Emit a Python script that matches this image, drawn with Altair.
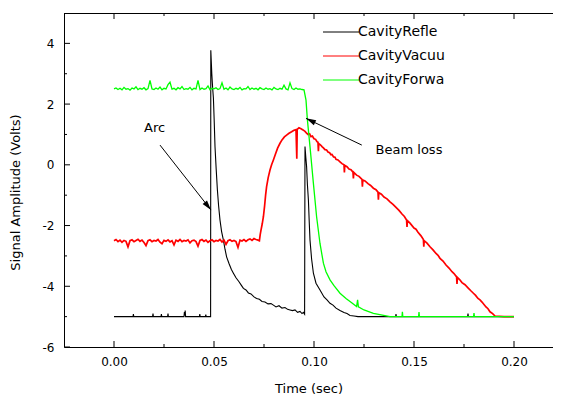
import math
import altair as alt
import pandas as pd

# ---------------- data ----------------
SAMPLE_DT = 0.001  # oscilloscope time base of the flat pre-trigger records

# CavityRefle (black)
REFLE = [
    (0.0000, -5.00), (0.0095, -5.00), (0.0097, -4.92), (0.0099, -5.00),
    (0.0193, -5.00), (0.0195, -4.90), (0.0197, -5.00), (0.0235, -5.00),
    (0.0237, -4.92), (0.0239, -5.00), (0.0268, -5.00), (0.0270, -4.90),
    (0.0272, -5.00), (0.0350, -5.00), (0.0352, -4.85), (0.0354, -4.96),
    (0.0356, -4.80), (0.0358, -5.00), (0.0427, -5.00), (0.0429, -4.92),
    (0.0431, -5.00), (0.0457, -5.00), (0.0459, -4.93), (0.0461, -5.00),
    (0.0483, -5.00),
    (0.0484, 3.77), (0.0489, 3.00), (0.0493, 2.55), (0.0497, 2.20),
    (0.0501, 1.45), (0.0505, 0.60), (0.0511, -0.15), (0.0517, -0.83),
    (0.0523, -1.35), (0.0530, -1.82), (0.0538, -2.20), (0.0547, -2.48),
    (0.0555, -2.78), (0.0563, -3.03), (0.0575, -3.25), (0.0587, -3.45),
    (0.0597, -3.57), (0.0610, -3.72), (0.0625, -3.85), (0.0637, -3.97),
    (0.0647, -4.07), (0.0660, -4.12), (0.0672, -4.22), (0.0685, -4.25),
    (0.0700, -4.35), (0.0713, -4.40), (0.0727, -4.43), (0.0740, -4.50),
    (0.0755, -4.52), (0.0770, -4.58), (0.0785, -4.57), (0.0797, -4.62),
    (0.0810, -4.68), (0.0825, -4.64), (0.0840, -4.72), (0.0855, -4.70),
    (0.0868, -4.76), (0.0880, -4.78), (0.0893, -4.80), (0.0905, -4.78),
    (0.0918, -4.86), (0.0930, -4.83), (0.0940, -4.90), (0.0947, -4.86),
    (0.0953, -4.92),
    (0.0955, 0.60), (0.0959, 0.25), (0.0963, -0.06), (0.0967, -0.65),
    (0.0972, -1.16), (0.0976, -1.85), (0.0980, -2.48), (0.0988, -3.10),
    (0.0997, -3.57), (0.1010, -3.90), (0.1030, -4.12), (0.1050, -4.35),
    (0.1065, -4.45), (0.1080, -4.56), (0.1095, -4.62), (0.1110, -4.72),
    (0.1130, -4.80), (0.1150, -4.86), (0.1165, -4.90), (0.1180, -4.96),
    (0.1200, -4.98), (0.1220, -5.00), (0.1250, -5.00), (0.1300, -5.00),
    (0.1350, -5.00), (0.1408, -5.00), (0.1410, -4.92), (0.1412, -5.00),
    (0.1500, -5.00), (0.1600, -5.00), (0.1700, -5.00), (0.1768, -5.00),
    (0.1770, -4.90), (0.1772, -5.00), (0.1850, -5.00), (0.2000, -5.00),
]

# CavityVacuu (red): flat record sampled every SAMPLE_DT from t = 0
VACUU_BASE = [
    -2.50, -2.46, -2.53, -2.48, -2.55, -2.49, -2.52, -2.70, -2.50, -2.47,
    -2.53, -2.49, -2.45, -2.52, -2.48, -2.56, -2.66, -2.50, -2.47, -2.53,
    -2.49, -2.51, -2.46, -2.55, -2.60, -2.49, -2.52, -2.47, -2.54, -2.50,
    -2.64, -2.48, -2.52, -2.46, -2.53, -2.49, -2.51, -2.47, -2.57, -2.50,
    -2.48, -2.53, -2.68, -2.49, -2.46, -2.52, -2.48, -2.55, -2.50, -2.47,
    -2.53, -2.49, -2.51, -2.46, -2.54, -2.48, -2.62, -2.50, -2.47, -2.52,
    -2.49, -2.53, -2.72, -2.48, -2.51, -2.46, -2.52, -2.47, -2.44, -2.49,
    -2.43, -2.46, -2.48,
]
VACUU = [
    (0.0727, -2.50), (0.0731, -2.30), (0.0735, -2.15), (0.0741, -1.95),
    (0.0747, -1.71), (0.0753, -1.35), (0.0758, -1.00), (0.0763, -0.72),
    (0.0771, -0.42), (0.0780, -0.17), (0.0788, 0.00), (0.0797, 0.16),
    (0.0807, 0.35), (0.0818, 0.55), (0.0830, 0.71), (0.0840, 0.82),
    (0.0852, 0.92), (0.0863, 0.98), (0.0875, 1.04), (0.0888, 1.09),
    (0.0900, 1.14), (0.0910, 1.16), (0.0914, 0.20), (0.0916, 1.17),
    (0.0925, 1.22), (0.0935, 1.19), (0.0945, 1.15), (0.0955, 1.10),
    (0.0963, 1.04), (0.0970, 1.00), (0.0978, 1.02), (0.0985, 0.93),
    (0.0992, 0.95), (0.1000, 0.86), (0.1008, 0.84), (0.1015, 0.76),
    (0.1020, 0.74), (0.1022, 0.45), (0.1024, 0.70), (0.1032, 0.66),
    (0.1040, 0.60), (0.1047, 0.56), (0.1055, 0.50), (0.1063, 0.49),
    (0.1070, 0.42), (0.1078, 0.40), (0.1085, 0.33), (0.1090, 0.34),
    (0.1098, 0.26), (0.1105, 0.25), (0.1110, 0.18), (0.1120, 0.16),
    (0.1130, 0.10), (0.1140, 0.04), (0.1150, 0.00), (0.1152, -0.25),
    (0.1154, -0.02), (0.1165, -0.06), (0.1175, -0.14), (0.1185, -0.16),
    (0.1195, -0.24), (0.1197, -0.45), (0.1199, -0.25), (0.1213, -0.34),
    (0.1225, -0.38), (0.1240, -0.48), (0.1242, -0.72), (0.1244, -0.50),
    (0.1255, -0.53), (0.1270, -0.62), (0.1283, -0.68), (0.1297, -0.77),
    (0.1310, -0.82), (0.1320, -0.90), (0.1322, -1.15), (0.1324, -0.92),
    (0.1337, -0.97), (0.1350, -1.06), (0.1365, -1.12), (0.1380, -1.22),
    (0.1395, -1.30), (0.1410, -1.40), (0.1425, -1.50), (0.1440, -1.62),
    (0.1452, -1.70), (0.1463, -1.82), (0.1465, -2.05), (0.1467, -1.84),
    (0.1480, -1.92), (0.1500, -2.08), (0.1510, -2.12), (0.1520, -2.22),
    (0.1535, -2.34), (0.1547, -2.46), (0.1549, -2.70), (0.1551, -2.50),
    (0.1565, -2.58), (0.1580, -2.70), (0.1595, -2.80), (0.1610, -2.92),
    (0.1620, -2.98), (0.1630, -3.08), (0.1645, -3.17), (0.1660, -3.30),
    (0.1675, -3.40), (0.1690, -3.52), (0.1700, -3.58), (0.1713, -3.69),
    (0.1715, -3.92), (0.1717, -3.71), (0.1728, -3.78), (0.1740, -3.88),
    (0.1755, -3.95), (0.1770, -4.05), (0.1783, -4.14), (0.1797, -4.23),
    (0.1808, -4.30), (0.1820, -4.40), (0.1830, -4.45), (0.1840, -4.52),
    (0.1850, -4.60), (0.1860, -4.68), (0.1870, -4.74), (0.1880, -4.84),
    (0.1893, -4.90), (0.1905, -4.98), (0.1950, -5.00), (0.2000, -5.00),
]

# CavityForwa (green): flat record sampled every SAMPLE_DT from t = 0
FORWA_BASE = [
    2.50, 2.53, 2.48, 2.52, 2.47, 2.55, 2.49, 2.51, 2.46, 2.53,
    2.50, 2.57, 2.48, 2.52, 2.49, 2.54, 2.47, 2.51, 2.78, 2.50,
    2.48, 2.53, 2.49, 2.56, 2.47, 2.52, 2.50, 2.64, 2.72, 2.49,
    2.52, 2.47, 2.54, 2.50, 2.58, 2.48, 2.51, 2.49, 2.55, 2.47,
    2.52, 2.50, 2.78, 2.48, 2.53, 2.49, 2.51, 2.60, 2.47, 2.52,
    2.50, 2.54, 2.48, 2.51, 2.70, 2.49, 2.53, 2.47, 2.56, 2.50,
    2.48, 2.52, 2.49, 2.55, 2.47, 2.51, 2.50, 2.58, 2.48, 2.53,
    2.49, 2.52, 2.47, 2.54, 2.50, 2.48, 2.53, 2.49, 2.51, 2.47,
    2.55, 2.50, 2.48, 2.52, 2.49, 2.62, 2.50, 2.47, 2.70, 2.51,
    2.48, 2.53, 2.49, 2.50, 2.48, 2.47,
]
FORWA = [
    (0.0960, 2.13), (0.0967, 1.48), (0.0980, 0.60), (0.0997, -0.61),
    (0.1013, -1.71), (0.1030, -2.59), (0.1047, -3.24), (0.1060, -3.52),
    (0.1080, -3.79), (0.1100, -3.98), (0.1130, -4.23), (0.1160, -4.40),
    (0.1190, -4.55), (0.1213, -4.67), (0.1218, -4.45), (0.1222, -4.68),
    (0.1250, -4.78), (0.1297, -4.89), (0.1380, -5.00), (0.1440, -5.00),
    (0.1442, -4.84), (0.1444, -5.00), (0.1523, -5.00), (0.1525, -4.85),
    (0.1527, -5.00), (0.1798, -5.00), (0.1800, -4.88), (0.1802, -5.00),
    (0.2000, -5.00),
]

SERIES = ["CavityRefle", "CavityVacuu", "CavityForwa"]
COLORS = ["#000000", "#ff0000", "#00ff00"]
WIDTHS = [1.1, 1.7, 1.3]

X_MAJOR = [0.0, 0.05, 0.10, 0.15, 0.20]
X_MINOR = [0.025, 0.075, 0.125, 0.175]
Y_MAJOR = [-6, -4, -2, 0, 2, 4]
Y_MINOR = [-5, -3, -1, 1, 3]

NOTE_TEXT = ["Arc", "Beam loss"]
NOTE_X = [0.0203, 0.1475]
NOTE_Y = [1.22, 0.49]
ARROW_TAIL_X = [0.0230, 0.1239]
ARROW_TAIL_Y = [0.65, 0.65]
ARROW_TIP_X = [0.0485, 0.0960]
ARROW_TIP_Y = [-1.49, 1.53]

# ---------------- layout ----------------
# the page body is 545 px wide, so the svg may be at most 545 px wide
W, H = 489, 334
X_DOM = [-0.025, 0.2195]
Y_DOM = [-6, 5]
FONT = "DejaVu Sans"

xs = alt.Scale(domain=X_DOM, nice=False, zero=False)
ys = alt.Scale(domain=Y_DOM, nice=False, zero=False)

xaxis = alt.Axis(values=X_MAJOR, format=".2f", ticks=False, grid=False,
                 domainColor="black", domainWidth=1,
                 labelFont=FONT, labelFontSize=12, labelColor="black",
                 labelPadding=9, title="Time (sec)", titleFont=FONT,
                 titleFontSize=13, titleFontWeight="normal", titleColor="black",
                 titlePadding=15)
yaxis = alt.Axis(values=Y_MAJOR, labelExpr="'' + datum.value", ticks=False,
                 grid=False, domainColor="black", domainWidth=1,
                 labelFont=FONT, labelFontSize=12, labelColor="black",
                 labelPadding=10, title="Signal Amplitude (Volts)",
                 titleFont=FONT, titleFontSize=13, titleFontWeight="normal",
                 titleColor="black", titleX=-49, titleY=179,
                 titleBaseline="middle", titleAlign="center")

color_scale = alt.Scale(domain=SERIES, range=COLORS)
legend = alt.Legend(orient="none", legendX=270, legendY=12, title=None,
                    symbolType="M-3,0H3", symbolSize=144, symbolStrokeWidth=1,
                    labelOffset=10, rowPadding=10, padding=0,
                    labelFont=FONT, labelFontSize=14, labelColor="black")


def with_base(base, pairs):
    return [(round(i * SAMPLE_DT, 4), v) for i, v in enumerate(base)] + pairs


def line_layer(pairs, i):
    df = pd.DataFrame({"t": [p[0] for p in pairs], "v": [p[1] for p in pairs],
                       "s": SERIES[i]})
    return alt.Chart(df).mark_line(strokeWidth=WIDTHS[i]).encode(
        x=alt.X("t:Q", scale=xs, axis=xaxis),
        y=alt.Y("v:Q", scale=ys, axis=yaxis),
        color=alt.Color("s:N", scale=color_scale, legend=legend),
    )


def xticks(vals, y0, y1):
    return alt.Chart(pd.DataFrame({"t": vals})).mark_rule(
        color="black", strokeWidth=1).encode(
        x=alt.X("t:Q", scale=xs, axis=xaxis),
        y=alt.value(y0), y2=alt.value(y1))


def yticks(vals, x0, x1):
    return alt.Chart(pd.DataFrame({"v": vals})).mark_rule(
        color="black", strokeWidth=1).encode(
        y=alt.Y("v:Q", scale=ys, axis=yaxis),
        x=alt.value(x0), x2=alt.value(x1))


top_line = alt.Chart(pd.DataFrame({"a": [0]})).mark_rule(
    color="black", strokeWidth=1).encode(
    x=alt.value(0), x2=alt.value(W), y=alt.value(0.5))

px_x = W / (X_DOM[1] - X_DOM[0])
px_y = H / (Y_DOM[1] - Y_DOM[0])
angles = []
for tx, ty, hx, hy in zip(ARROW_TAIL_X, ARROW_TAIL_Y, ARROW_TIP_X, ARROW_TIP_Y):
    dxs = (hx - tx) * px_x
    dys = -(hy - ty) * px_y
    angles.append(math.degrees(math.atan2(dxs, -dys)) % 360)

arrows_df = pd.DataFrame({"x1": ARROW_TAIL_X, "y1": ARROW_TAIL_Y,
                          "x2": ARROW_TIP_X, "y2": ARROW_TIP_Y, "ang": angles})
arrow_lines = alt.Chart(arrows_df).mark_rule(color="black", strokeWidth=1).encode(
    x=alt.X("x1:Q", scale=xs, axis=xaxis), y=alt.Y("y1:Q", scale=ys, axis=yaxis),
    x2="x2:Q", y2="y2:Q")
arrow_heads = alt.Chart(arrows_df).mark_point(
    shape="M0,0L1.4,5L-1.4,5Z", filled=True, size=16, color="black",
    opacity=1, strokeWidth=0).encode(
    x=alt.X("x2:Q", scale=xs, axis=xaxis), y=alt.Y("y2:Q", scale=ys, axis=yaxis),
    angle=alt.Angle("ang:Q", scale=None))

notes = alt.Chart(pd.DataFrame({"x": NOTE_X, "y": NOTE_Y, "txt": NOTE_TEXT})).mark_text(
    font=FONT, fontSize=13, color="black", align="center", baseline="middle").encode(
    x=alt.X("x:Q", scale=xs, axis=xaxis), y=alt.Y("y:Q", scale=ys, axis=yaxis),
    text="txt:N")

chart = alt.layer(
    line_layer(REFLE, 0),
    line_layer(with_base(VACUU_BASE, VACUU), 1),
    line_layer(with_base(FORWA_BASE, FORWA), 2),
    top_line,
    xticks(X_MAJOR, H, H - 6), xticks(X_MINOR, H, H - 3),
    xticks(X_MAJOR, 0, 6), xticks(X_MINOR, 0, 3),
    yticks(Y_MAJOR, 0, 6), yticks(Y_MINOR, 0, 3),
    arrow_lines, arrow_heads, notes,
).properties(
    width=W, height=H,
    autosize=alt.AutoSizeParams(type="none"),
    padding={"left": 56, "top": 5, "right": 0, "bottom": 50},
    background="white",
).configure_view(stroke=None)

chart.save("out.html", embed_options={"renderer": "svg", "actions": False})
